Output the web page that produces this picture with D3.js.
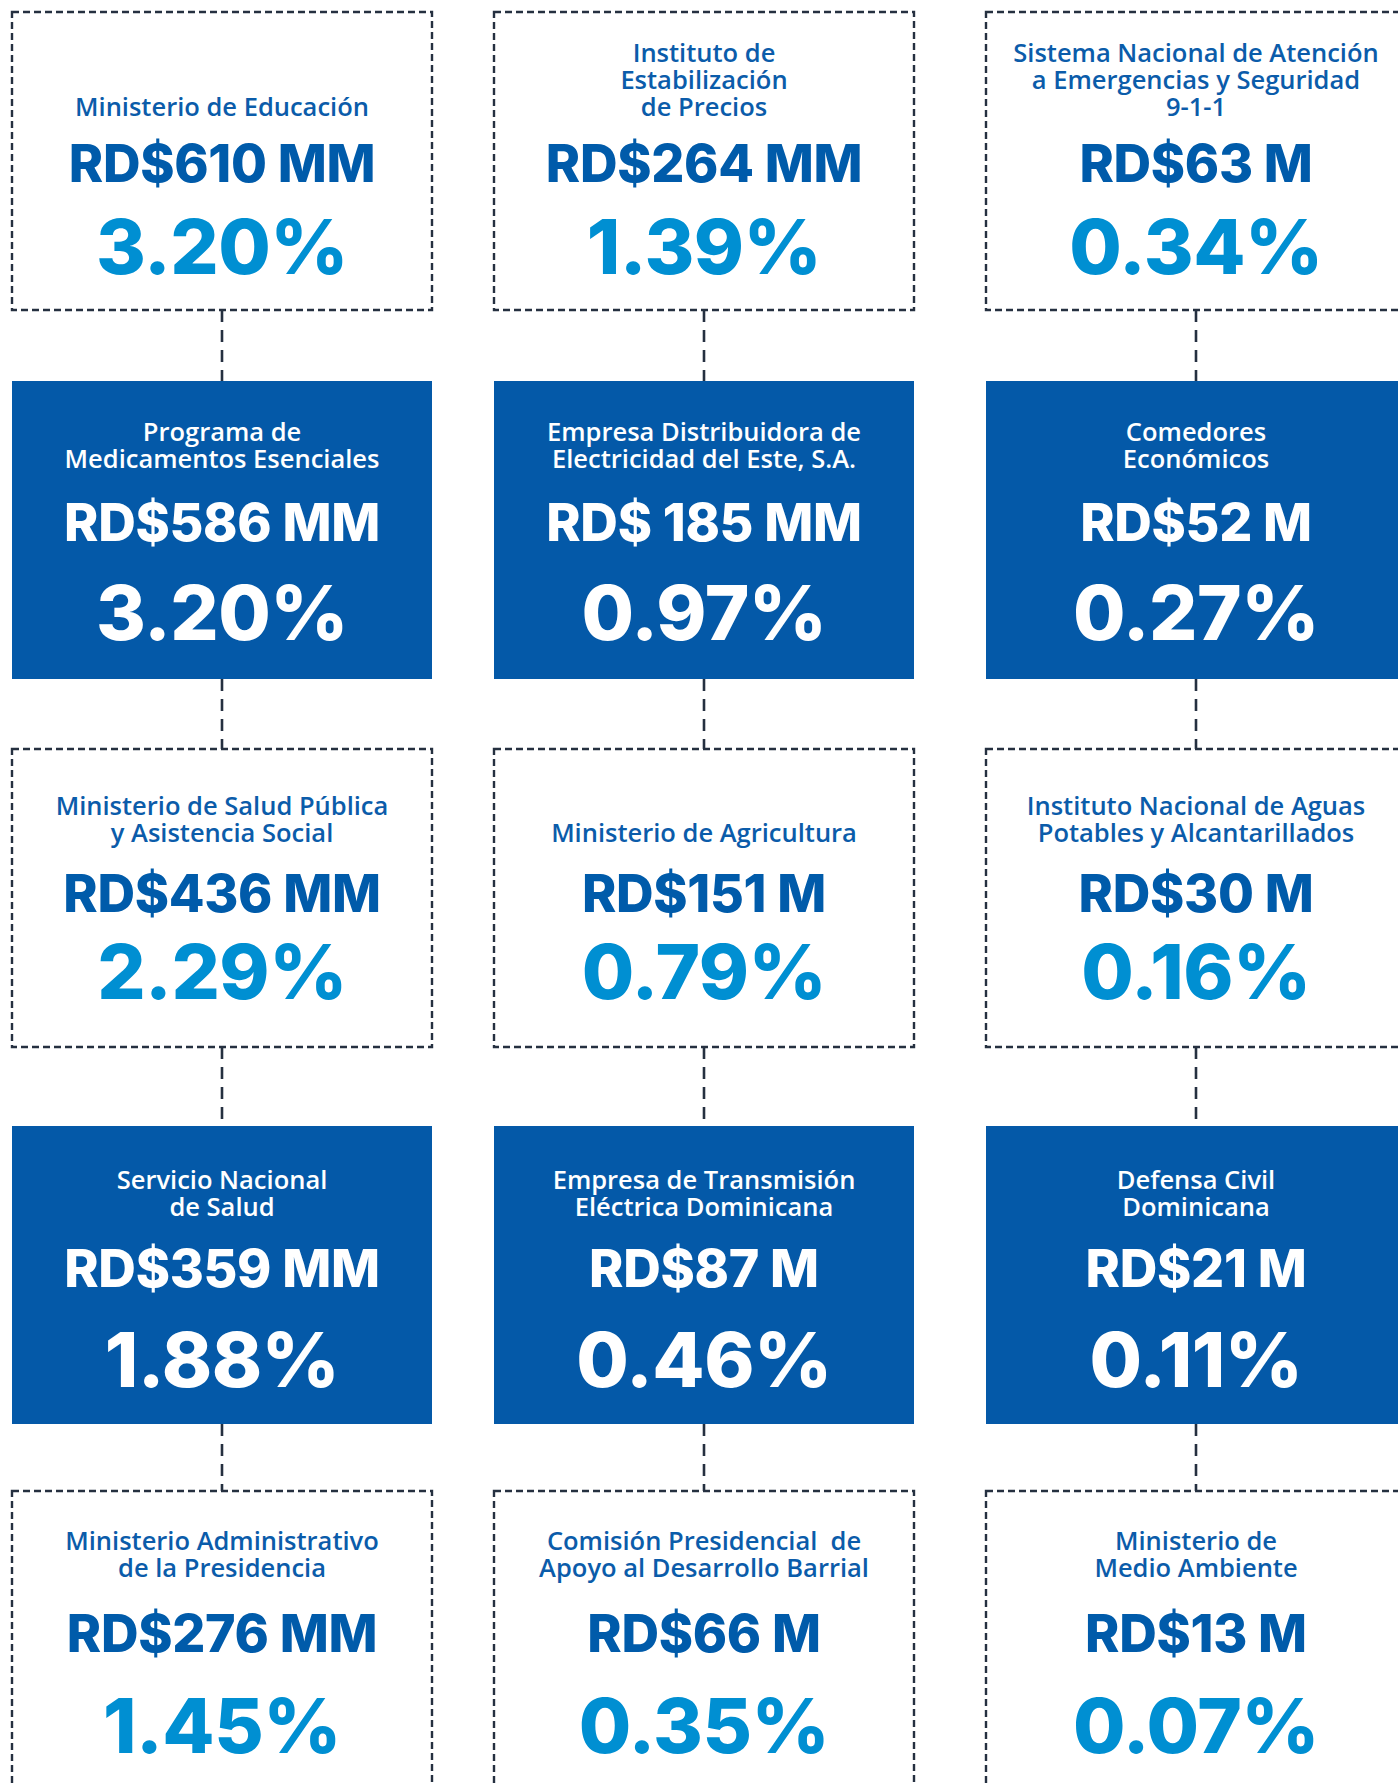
<!DOCTYPE html>
<html>
<head>
<meta charset="utf-8">
<script src="https://cdn.jsdelivr.net/npm/d3@7/dist/d3.min.js"></script>
<style>
  html, body { margin: 0; padding: 0; background: #ffffff; }
  svg { display: block; }
</style>
</head>
<body>
<div id="chart"></div>
<script>
// ---- Data (ranked column by column, top to bottom) ----
const entities = [
  ["Ministerio de Educación"],
  ["Programa de", "Medicamentos Esenciales"],
  ["Ministerio de Salud Pública", "y Asistencia Social"],
  ["Servicio Nacional", "de Salud"],
  ["Ministerio Administrativo", "de la Presidencia"],
  ["Instituto de", "Estabilización", "de Precios"],
  ["Empresa Distribuidora de", "Electricidad del Este, S.A."],
  ["Ministerio de Agricultura"],
  ["Empresa de Transmisión", "Eléctrica Dominicana"],
  ["Comisión Presidencial  de", "Apoyo al Desarrollo Barrial"],
  ["Sistema Nacional de Atención", "a Emergencias y Seguridad", "9-1-1"],
  ["Comedores", "Económicos"],
  ["Instituto Nacional de Aguas", "Potables y Alcantarillados"],
  ["Defensa Civil", "Dominicana"],
  ["Ministerio de", "Medio Ambiente"]
];
const amounts = [
  "RD$610 MM", "RD$586 MM", "RD$436 MM", "RD$359 MM", "RD$276 MM",
  "RD$264 MM", "RD$ 185 MM", "RD$151 M", "RD$87 M", "RD$66 M",
  "RD$63 M", "RD$52 M", "RD$30 M", "RD$21 M", "RD$13 M"
];
const shares = [
  3.20, 3.20, 2.29, 1.88, 1.45,
  1.39, 0.97, 0.79, 0.46, 0.35,
  0.34, 0.27, 0.16, 0.11, 0.07
];
const columnsIdx = [0, 1, 2];
const rowsIdx = [0, 1, 2, 3, 4];

// ---- Layout ----
const W = 1398, H = 1783;
const boxW = 420, boxH = 298;
const xCenter = d3.scaleOrdinal().domain(columnsIdx).range([222, 704, 1196]);
const yTop = d3.scaleOrdinal().domain(rowsIdx).range([12, 381, 749, 1126, 1491]);
// vertical offsets inside each row (title last baseline, amount baseline, share baseline)
const rowLayout = d3.scaleOrdinal().domain(rowsIdx).range([
  {title: 104, amt: 170, pct: 262},
  {title: 87,  amt: 160, pct: 259},
  {title: 93,  amt: 163, pct: 250},
  {title: 90,  amt: 161, pct: 261},
  {title: 86,  amt: 161, pct: 262}
]);

const C = {
  fill: "#0459A8",
  border: "#253040",
  titleBlue: "#0B5CAA",
  amtBlue: "#005BAA",
  pctBlue: "#008FD2"
};

const cells = entities.map((lines, i) => ({
  lines, amount: amounts[i], share: shares[i],
  col: Math.floor(i / 5), row: i % 5
}));

const svg = d3.select("#chart").append("svg")
  .attr("width", W).attr("height", H);

// connectors
const links = [];
columnsIdx.forEach(c => {
  rowsIdx.slice(0, -1).forEach(r => links.push({c, r}));
});
svg.append("g").selectAll("line").data(links).join("line")
  .attr("x1", d => xCenter(d.c)).attr("x2", d => xCenter(d.c))
  .attr("y1", d => yTop(d.r) + boxH)
  .attr("y2", d => yTop(d.r + 1))
  .attr("stroke", C.border)
  .attr("stroke-width", 2.6)
  .attr("stroke-dasharray", "12,8");

const g = svg.append("g").selectAll("g").data(cells).join("g")
  .attr("transform", d => `translate(${xCenter(d.col)},${yTop(d.row)})`);

g.append("rect")
  .attr("x", -boxW / 2).attr("y", 0)
  .attr("width", boxW).attr("height", boxH)
  .attr("fill", d => d.row % 2 === 1 ? C.fill : "#ffffff")
  .attr("stroke", d => d.row % 2 === 1 ? "none" : C.border)
  .attr("stroke-width", 2.4)
  .attr("stroke-dasharray", "7,4");

const lineH = 27;
g.each(function(d) {
  const sel = d3.select(this);
  const L = rowLayout(d.row);
  const filled = d.row % 2 === 1;
  const n = d.lines.length;
  sel.append("text")
    .attr("text-anchor", "middle")
    .attr("font-family", "'Open Sans', sans-serif")
    .attr("font-weight", 600)
    .attr("font-size", 25.5)
    .attr("fill", filled ? "#ffffff" : C.titleBlue)
    .selectAll("tspan").data(d.lines).join("tspan")
    .attr("x", 0)
    .attr("y", (t, j) => L.title - (n - 1 - j) * lineH)
    .attr("xml:space", "preserve")
    .text(t => t);

  sel.append("text")
    .attr("text-anchor", "middle")
    .attr("x", 0).attr("y", L.amt)
    .attr("font-family", "Inter, sans-serif")
    .attr("font-weight", 800)
    .attr("font-size", 52)
    .attr("letter-spacing", -0.3)
    .attr("fill", filled ? "#ffffff" : C.amtBlue)
    .text(d.amount);

  sel.append("text")
    .attr("text-anchor", "middle")
    .attr("x", 0).attr("y", L.pct)
    .attr("font-family", "Inter, sans-serif")
    .attr("font-weight", 800)
    .attr("font-size", 76)
    .attr("letter-spacing", -0.5)
    .attr("fill", filled ? "#ffffff" : C.pctBlue)
    .text(d3.format(".2f")(d.share) + "%");
});
</script>
</body>
</html>
